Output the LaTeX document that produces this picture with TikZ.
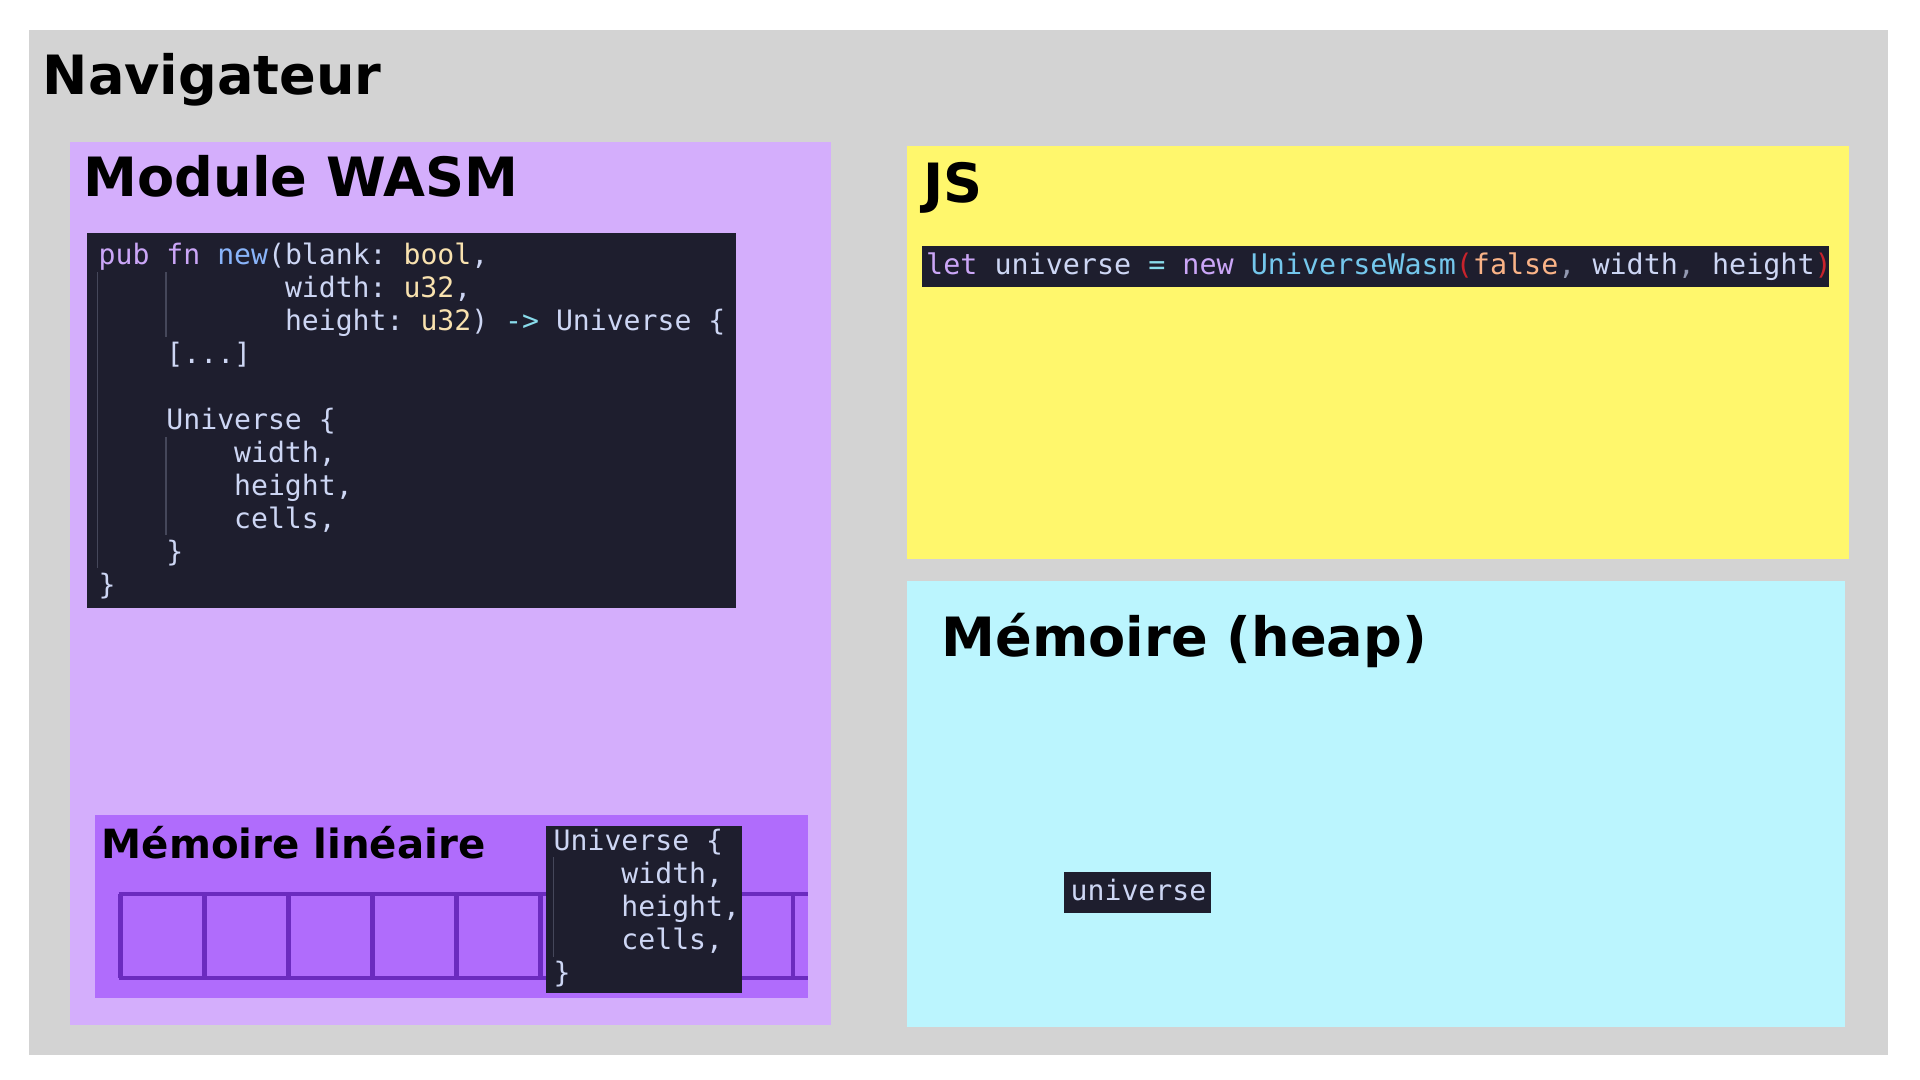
\documentclass[tikz,border=0pt]{standalone}
\usepackage{fontspec}
\setmainfont{DejaVu Sans}
\setmonofont{DejaVu Sans Mono}
\usepackage{tikz}

\definecolor{navgray}{HTML}{D3D3D3}
\definecolor{wasmfill}{HTML}{D4AEFC}
\definecolor{linfill}{HTML}{B06CFC}
\definecolor{cellline}{HTML}{6B2BBF}
\definecolor{jsfill}{HTML}{FFF76C}
\definecolor{heapfill}{HTML}{BBF5FE}
\definecolor{codebg}{HTML}{1E1E2E}
\definecolor{ctext}{HTML}{CDD6F4}
\definecolor{cmauve}{HTML}{CBA6F7}
\definecolor{cblue}{HTML}{89B4FA}
\definecolor{cyellow}{HTML}{F9E2AF}
\definecolor{csky}{HTML}{89DCEB}
\definecolor{csapphire}{HTML}{74C7EC}
\definecolor{cpeach}{HTML}{FAB387}
\definecolor{cred}{HTML}{C8232C}
\definecolor{coverlay}{HTML}{9399B2}
\definecolor{cguide}{HTML}{45475A}

\newcommand{\cols}[1]{\hspace*{#1\dimexpr 0.602em\relax}}
\newcommand{\kw}[1]{\textcolor{cmauve}{#1}}
\newcommand{\fnname}[1]{\textcolor{cblue}{#1}}
\newcommand{\ty}[1]{\textcolor{cyellow}{#1}}
\newcommand{\op}[1]{\textcolor{csky}{#1}}

\begin{document}
\begin{tikzpicture}[
			x=0.01cm, y=-0.01cm,
			title/.style={anchor=base west, inner sep=0pt, font=\bfseries\fontsize{15.4}{18}\selectfont},
			subtitle/.style={anchor=base west, inner sep=0pt, font=\bfseries\fontsize{11.45}{13}\selectfont},
			code/.style={anchor=base west, inner sep=0pt, align=left, text=ctext, font=\ttfamily\fontsize{8}{9.39}\selectfont},
			guide/.style={draw=cguide, line width=0.45pt},
			cell/.style={draw=cellline, line width=1.14pt}
			]
			
			\fill[white] (0,0) rectangle (1920,1080);
			\useasboundingbox (0,0) rectangle (1920,1080);
			
			% ---------------- NAVIGATEUR ----------------
			\fill[navgray] (29,30) rectangle (1888,1055);
			\node[title] (navtitle) at (42,95) {Navigateur};
			
			% ---------------- MODULE WASM ----------------
			\fill[wasmfill] (70,142) rectangle (831,1025);
			\node[title] (wasmtitle) at (83,197) {Module WASM};
			
			\fill[codebg] (87,233) rectangle (736,608);
			\draw[guide] (97.5,272) -- (97.5,568);
			\draw[guide] (166,272) -- (166,337);
			\draw[guide] (166,437) -- (166,535);
			% base of a multi-line node = last line
			\node[code] (rustnew) at (98,595) {%
				\kw{pub} \kw{fn} \fnname{new}(blank: \ty{bool},\\
				\cols{11}width: \ty{u32},\\
				\cols{11}height: \ty{u32}) \op{->} Universe \{\\
				\cols{4}[...]\\
				\mbox{}\\
				\cols{4}Universe \{\\
				\cols{8}width,\\
				\cols{8}height,\\
				\cols{8}cells,\\
				\cols{4}\}\\
				\}};
			
			% linear memory
			\fill[linfill] (95,815) rectangle (808,998);
			\node[subtitle] (lintitle) at (101,859) {Mémoire linéaire};
			\draw[cell] (118.5,894) -- (808,894);
			\draw[cell] (118.5,978) -- (808,978);
			\foreach \i in {0,...,8}
				\draw[cell] (120.5+84*\i,894) -- (120.5+84*\i,978);
			
			\fill[codebg] (546,826) rectangle (742,993);
			\draw[guide] (553.5,857) -- (553.5,957);
			\node[code] (linstruct) at (553,983) {%
				Universe \{\\
				\cols{4}width,\\
				\cols{4}height,\\
				\cols{4}cells,\\
				\}};
			
			% ---------------- JS ----------------
			\fill[jsfill] (907,146) rectangle (1849,559);
			\node[title] (jstitle) at (923,203) {JS};
			
			\fill[codebg] (922,246) rectangle (1829,287);
			\node[code, font=\ttfamily\fontsize{8.07}{9.5}\selectfont] (jscall) at (925.5,275) {%
				\kw{let} universe \op{=} \kw{new} \textcolor{csapphire}{UniverseWasm}\textcolor{cred}{(}\textcolor{cpeach}{false}\textcolor{coverlay}{,} width\textcolor{coverlay}{,} height\textcolor{cred}{)}};
			
			% ---------------- HEAP ----------------
			\fill[heapfill] (907,581) rectangle (1845,1027);
			\node[title] (heaptitle) at (941,657) {Mémoire (heap)};
			
			\fill[codebg] (1064,872) rectangle (1211,913);
			\node[code] (heapobj) at (1070,901) {universe};
			
		\end{tikzpicture}
\end{document}
